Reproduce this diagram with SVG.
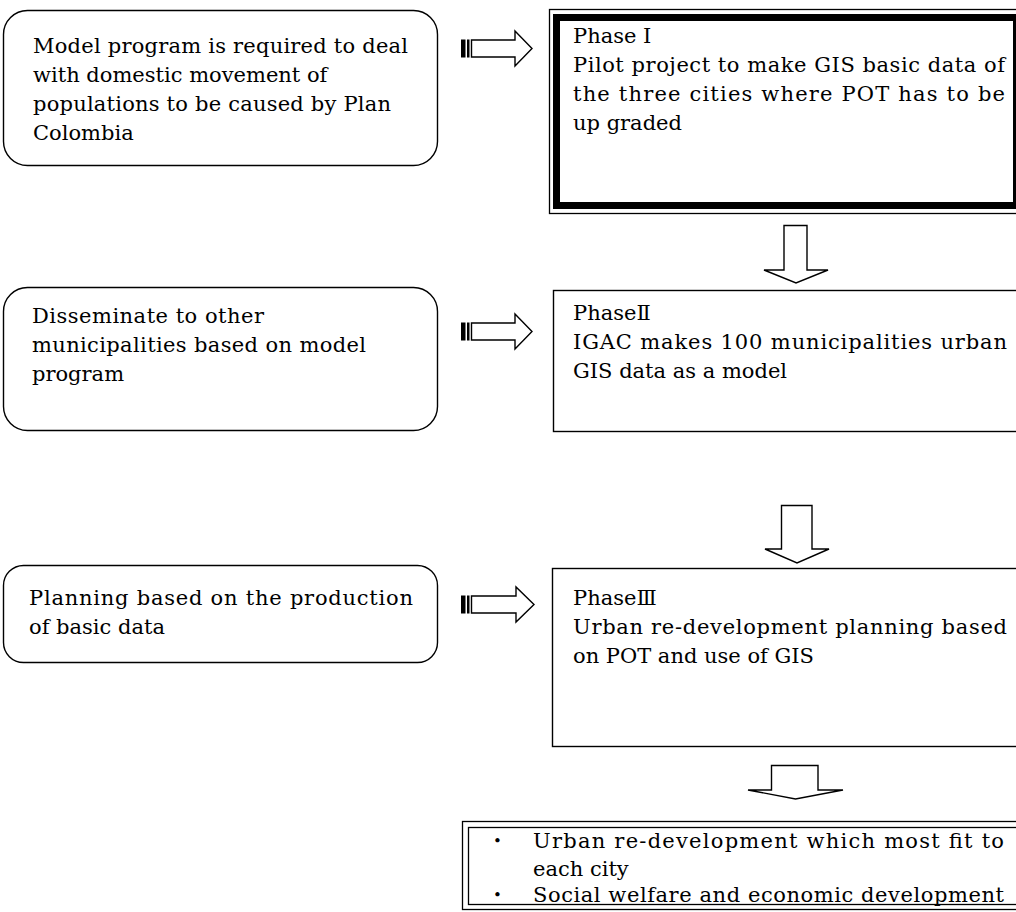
<svg xmlns="http://www.w3.org/2000/svg" width="1016" height="912" viewBox="0 0 1016 912">
  <defs>
    <style>
      .bg { fill: #ffffff; }
      .round { fill: #ffffff; stroke: #000000; stroke-width: 1.4; }
      .plain { fill: #ffffff; stroke: #000000; stroke-width: 1.4; }
      .thin { fill: none; stroke: #000000; stroke-width: 1.3; }
      .thick { fill: none; stroke: #000000; stroke-width: 7; }
      .arrow { fill: #ffffff; stroke: #000000; stroke-width: 1.4; stroke-linejoin: miter; }
      .stripe { fill: #000000; stroke: #000000; stroke-width: 1; }
      .t { font-family: "DejaVu Serif", "Liberation Serif", "Noto Sans CJK JP", serif; font-size: 21px; fill: #000000; }
      .dot { font-family: "DejaVu Serif", "Noto Sans CJK JP", serif; font-size: 15px; fill: #000000; }
    </style>
  </defs>

  <rect class="bg" x="0" y="0" width="1016" height="912"/>

  <!-- left column: rounded process notes -->
  <g id="note-model-program">
    <rect class="round" x="3.5" y="10.5" width="434" height="155" rx="24" ry="24"/>
    <text class="t" x="33" y="53" textLength="375" lengthAdjust="spacing">Model program is required to deal</text>
    <text class="t" x="33" y="82">with domestic movement of</text>
    <text class="t" x="33" y="111" textLength="358" lengthAdjust="spacing">populations to be caused by Plan</text>
    <text class="t" x="33" y="140">Colombia</text>
  </g>

  <g id="note-disseminate">
    <rect class="round" x="3.5" y="287.5" width="434" height="143" rx="24" ry="24"/>
    <text class="t" x="32" y="323" textLength="232" lengthAdjust="spacing">Disseminate to other</text>
    <text class="t" x="32" y="352" textLength="334" lengthAdjust="spacing">municipalities based on model</text>
    <text class="t" x="32" y="381">program</text>
  </g>

  <g id="note-planning">
    <rect class="round" x="3.5" y="565.5" width="434" height="97" rx="20" ry="20"/>
    <text class="t" x="29" y="605" textLength="384" lengthAdjust="spacing">Planning based on the production</text>
    <text class="t" x="29" y="634">of basic data</text>
  </g>

  <!-- right column: phases -->
  <g id="phase-1">
    <rect class="thin" x="549.5" y="9.5" width="500" height="204"/>
    <rect class="thick" x="556.5" y="17.5" width="460" height="188"/>
    <text class="t" x="573" y="43">Phase I</text>
    <text class="t" x="573" y="72" textLength="432" lengthAdjust="spacing">Pilot project to make GIS basic data of</text>
    <text class="t" x="573" y="101" textLength="432" lengthAdjust="spacing">the three cities where POT has to be</text>
    <text class="t" x="573" y="130">up graded</text>
  </g>

  <g id="phase-2">
    <rect class="plain" x="553.5" y="290.5" width="500" height="141"/>
    <text class="t" x="573" y="320">Phase&#x2161;</text>
    <text class="t" x="573" y="349" textLength="434" lengthAdjust="spacing">IGAC makes 100 municipalities urban</text>
    <text class="t" x="573" y="378">GIS data as a model</text>
  </g>

  <g id="phase-3">
    <rect class="plain" x="552.5" y="568.5" width="500" height="178"/>
    <text class="t" x="573" y="605">Phase&#x2162;</text>
    <text class="t" x="573" y="634" textLength="434" lengthAdjust="spacing">Urban re-development planning based</text>
    <text class="t" x="573" y="663">on POT and use of GIS</text>
  </g>

  <g id="outcome">
    <rect class="thin" x="462.5" y="821.5" width="600" height="88"/>
    <rect class="thin" x="468.5" y="827.5" width="600" height="77"/>
    <text class="dot" x="493" y="846">&#x2022;</text>
    <text class="t" x="533" y="848" textLength="471" lengthAdjust="spacing">Urban re-development which most fit to</text>
    <text class="t" x="533" y="876">each city</text>
    <text class="dot" x="493" y="900">&#x2022;</text>
    <text class="t" x="533" y="902" textLength="471" lengthAdjust="spacing">Social welfare and economic development</text>
  </g>

  <!-- connectors: striped block arrows into the phases, block arrows down the column -->
  <g id="connectors">
    <g id="arrow-note1-phase1">
      <rect class="stripe" x="461.5" y="40" width="3.5" height="17"/>
      <rect class="stripe" x="467.5" y="40" width="1.5" height="17"/>
      <polygon class="arrow" points="471.5,40 515,40 515,31 532,48.5 515,66 515,57 471.5,57"/>
    </g>
    <g id="arrow-note2-phase2">
      <rect class="stripe" x="461.5" y="323" width="3.5" height="17"/>
      <rect class="stripe" x="467.5" y="323" width="1.5" height="17"/>
      <polygon class="arrow" points="471.5,323 515,323 515,314 532,331.5 515,349 515,340 471.5,340"/>
    </g>
    <g id="arrow-note3-phase3">
      <rect class="stripe" x="461.5" y="596" width="3.5" height="17"/>
      <rect class="stripe" x="467.5" y="596" width="1.5" height="17"/>
      <polygon class="arrow" points="471.5,596 516,596 516,587 534,604.5 516,622 516,613 471.5,613"/>
    </g>
    <polygon id="arrow-phase1-phase2" class="arrow" points="784,225.5 807,225.5 807,270 828,270 796,283 764,270 784,270"/>
    <polygon id="arrow-phase2-phase3" class="arrow" points="781.5,505.5 812,505.5 812,549 829,549 797,563 765,549 781.5,549"/>
    <polygon id="arrow-phase3-outcome" class="arrow" points="771.5,765.5 818,765.5 818,790 843,790 795.5,799 748,790 771.5,790"/>
  </g>
</svg>
